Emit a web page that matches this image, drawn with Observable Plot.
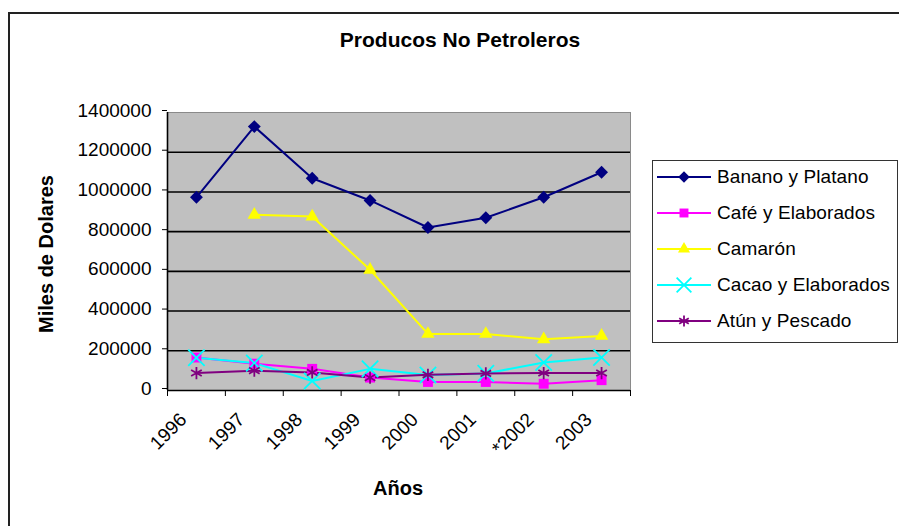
<!DOCTYPE html>
<html>
<head>
<meta charset="utf-8">
<script src="https://cdn.jsdelivr.net/npm/d3@7"></script>
<script src="https://cdn.jsdelivr.net/npm/@observablehq/plot@0.6"></script>
<style>
  html, body { margin: 0; padding: 0; background: #fff; }
  #wrap { position: relative; width: 899px; height: 526px; overflow: hidden; font-family: "Liberation Sans", Arial, sans-serif; color: #000; }
  #outer { position: absolute; left: 8px; top: 12px; width: 1000px; height: 1000px; border-left: 2px solid #222; border-top: 2px solid #222; box-sizing: border-box; }
  #chart { position: absolute; left: 0; top: 0; }
  .lbl { position: absolute; white-space: nowrap; line-height: 1; font-weight: bold; }
  #title { left: 460px; top: 29px; font-size: 21px; transform: translateX(-50%); }
  #xlab { left: 398px; top: 478px; font-size: 20px; transform: translateX(-50%); }
  #ylab { left: 46px; top: 254px; font-size: 20px; transform: translate(-50%, -50%) rotate(-90deg); }
  #legend { position: absolute; left: 652px; top: 160px; width: 246px; height: 183px; border: 1.5px solid #333; box-sizing: border-box; background: #fff; }
  .item { position: absolute; left: 4px; height: 20px; display: flex; align-items: center; font-size: 19px; white-space: nowrap; letter-spacing: 0.1px; }
  .item svg { margin-right: 6px; }
</style>
</head>
<body>
<div id="wrap">
  <div id="outer"></div>
  <div id="chart"></div>
  <div id="title" class="lbl">Producos No Petroleros</div>
  <div id="ylab" class="lbl">Miles de Dolares</div>
  <div id="xlab" class="lbl">Años</div>
  <div id="legend"></div>
</div>
<script>
// ---- data ----
const years = ["1996", "1997", "1998", "1999", "2000", "2001", "*2002", "2003"];
const seriesNames = ["Banano y Platano", "Café y Elaborados", "Camarón", "Cacao y Elaborados", "Atún y Pescado"];
const banano  = [973000, 1329000, 1069000, 957000, 821000, 870000, 973000, 1099000];
const cafe    = [166000, 135000, 109000, 65000, 43000, 43000, 34000, 52000];
const camaron = [null, 885000, 876000, 608000, 285000, 285000, 258000, 275000];
const cacao   = [165000, 138000, 48000, 109000, 78000, 86000, 141000, 166000];
const atun    = [88000, 100000, 91000, 65000, 79000, 86000, 88000, 88000];
const yTicks  = [0, 200000, 400000, 600000, 800000, 1000000, 1200000, 1400000];

// ---- styles ----
const styles = [
  {color: "#000080", symbol: "diamond2", r: 5.8, filled: true},
  {color: "#FF00FF", symbol: "square", r: 5.6, filled: true},
  {color: "#FFFF00", symbol: "triangle", r: 5.0, filled: true},
  {color: "#00FFFF", symbol: "times", r: 7.5, filled: false},
  {color: "#800080", symbol: "asterisk", r: 5.8, filled: false}
];
const values = [banano, cafe, camaron, cacao, atun];

const rows = values.map((vals, s) => vals.map((v, i) => ({series: seriesNames[s], i, year: years[i], value: v})));

const marks = [
  Plot.frame({fill: "#C0C0C0", stroke: "#8a8a8a", strokeWidth: 1}),
  Plot.gridY(yTicks.filter(t => t > 0 && t < 1400000), {stroke: "#000", strokeOpacity: 1, strokeWidth: 1.6}),
  Plot.ruleY([0], {stroke: "#000", strokeWidth: 1.6}),
  Plot.ruleX([0], {stroke: "#000", strokeWidth: 1.6}),
  Plot.axisY({ticks: yTicks, tickSize: 5, tickPadding: 11, tickFormat: d => String(d), stroke: "#000", fontSize: 19, dy: -2, label: null}),
  Plot.axisX({ticks: d3.range(years.length + 1), tickSize: 6, tickFormat: () => "", stroke: "#000", label: null}),
  Plot.text(years, {x: (d, i) => i + 0.5, y: () => 0, text: d => d, rotate: -45, textAnchor: "end", dx: -13, dy: 26, fontSize: 19, fill: "#000"})
];

rows.forEach((data, s) => {
  const st = styles[s];
  marks.push(Plot.line(data, {x: d => d.i + 0.5, y: "value", stroke: st.color, strokeWidth: 2, defined: d => d.value != null}));
});
rows.forEach((data, s) => {
  const st = styles[s];
  const opts = {x: d => d.i + 0.5, y: "value", symbol: () => st.symbol, r: st.r, filter: d => d.value != null};
  if (st.filled) { opts.fill = st.color; opts.stroke = "none"; }
  else { opts.stroke = st.color; opts.strokeWidth = 1.8; opts.fill = "none"; }
  marks.push(Plot.dot(data, opts));
});

const chart = Plot.plot({
  width: 899,
  height: 526,
  marginLeft: 167,
  marginRight: 269,
  marginTop: 112,
  marginBottom: 136,
  style: {fontFamily: "Liberation Sans, Arial, sans-serif", fontSize: "19px", background: "transparent", overflow: "visible", color: "#000"},
  x: {type: "linear", domain: [0, years.length]},
  y: {type: "linear", domain: [0, 1400000]},
  symbol: {type: "identity"},
  marks
});
document.getElementById("chart").appendChild(chart);

// ---- legend ----
const legend = document.getElementById("legend");
const symMap = {diamond2: d3.symbolDiamond2, square: d3.symbolSquare, triangle: d3.symbolTriangle, times: d3.symbolTimes, asterisk: d3.symbolAsterisk};
const itemCenters = [177, 213, 249, 285, 321];
seriesNames.forEach((name, s) => {
  const st = styles[s];
  const div = document.createElement("div");
  div.className = "item";
  div.style.top = (itemCenters[s] - 160 - 1.5 - 10) + "px";
  const rr = st.r * 0.9;
  const path = d3.symbol(symMap[st.symbol], Math.PI * rr * rr)();
  const sym = st.filled
    ? `<path d="${path}" transform="translate(27,10)" fill="${st.color}"/>`
    : `<path d="${path}" transform="translate(27,10)" fill="none" stroke="${st.color}" stroke-width="1.8"/>`;
  div.innerHTML = `<svg width="54" height="20"><line x1="0" x2="54" y1="10" y2="10" stroke="${st.color}" stroke-width="2"/>${sym}</svg><span>${name}</span>`;
  legend.appendChild(div);
});
</script>
</body>
</html>
